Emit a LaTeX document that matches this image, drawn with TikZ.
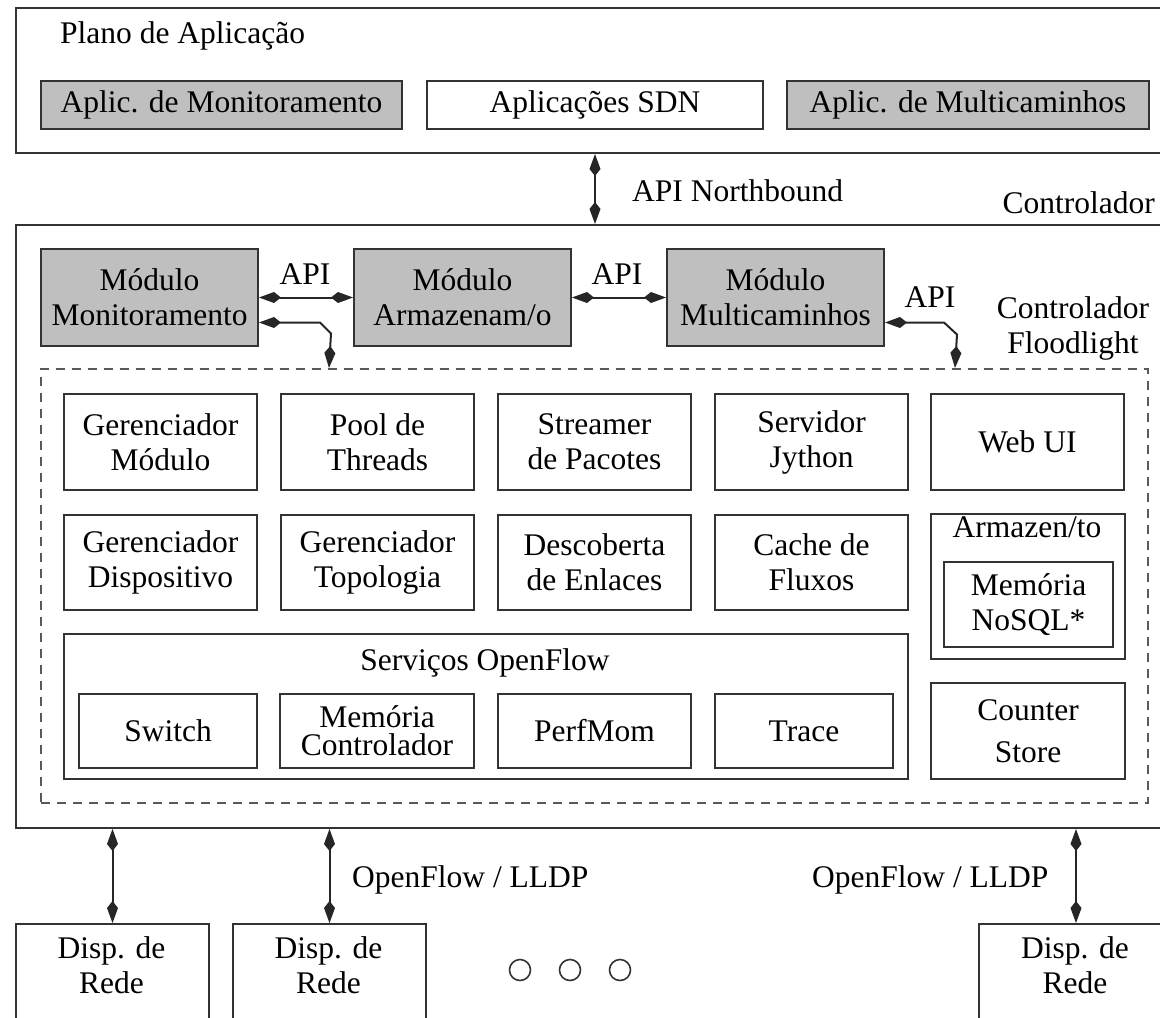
\documentclass[tikz,border=0pt]{standalone}
\usepackage{fontspec}
\setmainfont{Liberation Serif}
\usetikzlibrary{arrows.meta}
\begin{document}
\begin{tikzpicture}[x=1pt,y=-1pt,
  every node/.style={font=\fontsize{31.5}{35}\selectfont},
  frame/.style={draw=black!80, line width=2pt, inner sep=0pt, anchor=north west},
  box/.style={frame, align=center},
  graybox/.style={box, fill=black!25},
  lbl/.style={inner sep=0pt},
  dot/.style={circle, draw=black!80, line width=1.6pt, minimum size=21pt, inner sep=0pt},
  biarrow/.style={draw=black!85, line width=2pt,
    {Kite[length=22pt,width=11pt,inset=7pt]}-{Kite[length=22pt,width=11pt,inset=7pt]}},
]
\path[use as bounding box, clip] (0,0) rectangle (1160,1018);

% application plane
\node[frame, minimum width=1160pt, minimum height=145pt] (plano) at (15,7) {};
\node[lbl, anchor=base west] (tplano) at (60,43) {Plano de Aplicação};
\node[graybox, minimum width=361pt, minimum height=48pt] (amon) at (40,80) {Aplic. de Monitoramento};
\node[box, minimum width=336pt, minimum height=48pt] (sdn) at (426,80) {Aplicações SDN};
\node[graybox, minimum width=362pt, minimum height=48pt] (amul) at (786,80) {Aplic. de Multicaminhos};

% controller
\node[frame, minimum width=1160pt, minimum height=603pt] (ctl) at (15,224) {};
\node[lbl, anchor=base east] (tctl) at (1155,213) {Controlador};
\node[lbl, align=center] (tfl) at (1073,328) {Controlador\\Floodlight};
\node[lbl, anchor=base west] (tnb) at (632,201) {API Northbound};

\node[graybox, minimum width=217pt, minimum height=97pt] (mon) at (40,248) {Módulo\\Monitoramento};
\node[graybox, minimum width=217pt, minimum height=97pt] (arm) at (353,248) {Módulo\\Armazenam/o};
\node[graybox, minimum width=217pt, minimum height=97pt] (mul) at (666,248) {Módulo\\Multicaminhos};
\node[lbl, anchor=base] (api1) at (305,284) {API};
\node[lbl, anchor=base] (api2) at (617,284) {API};
\node[lbl, anchor=base] (api3) at (930,307) {API};

% Floodlight core
\node[frame, draw=black!65, line width=1.8pt, dash pattern=on 9pt off 7pt,
  minimum width=1107pt, minimum height=434pt] (fl) at (40,368) {};

\node[box, minimum width=193pt, minimum height=96pt] (gm) at (63,393) {Gerenciador\\Módulo};
\node[box, minimum width=193pt, minimum height=96pt] (pool) at (280,393) {Pool de\\Threads};
\node[box, minimum width=193pt, minimum height=96pt] (sp) at (497,393) {Streamer\\de Pacotes};
\node[box, minimum width=193pt, minimum height=96pt] (sj) at (714,393) {Servidor\\Jython};
\node[box, minimum width=193pt, minimum height=96pt] (web) at (930,393) {Web UI};

\node[box, minimum width=193pt, minimum height=95pt] (gd) at (63,514) {Gerenciador\\Dispositivo};
\node[box, minimum width=193pt, minimum height=95pt] (gt) at (280,514) {Gerenciador\\Topologia};
\node[box, minimum width=193pt, minimum height=95pt] (de) at (497,514) {Descoberta\\de Enlaces};
\node[box, minimum width=193pt, minimum height=95pt] (cf) at (714,514) {Cache de\\Fluxos};

\node[box, minimum width=194pt, minimum height=145pt] (arz) at (930,513) {};
\node[lbl, anchor=base] (tarz) at (1027,537) {Armazen/to};
\node[box, minimum width=169pt, minimum height=85pt] (nosql) at (943,561) {Memória\\NoSQL*};
\node[box, minimum width=194pt, minimum height=96pt, font=\fontsize{31.5}{42}\selectfont] (cs) at (930,682) {Counter\\Store};

\node[box, minimum width=844pt, minimum height=145pt] (sof) at (63,633) {};
\node[lbl, anchor=base] (tsof) at (485,670) {Serviços OpenFlow};
\node[box, minimum width=178pt, minimum height=74pt] (sw) at (78,693) {Switch};
\node[box, minimum width=194pt, minimum height=74pt, font=\fontsize{31.5}{28}\selectfont] (mc) at (279,693) {Memória\\Controlador};
\node[box, minimum width=193pt, minimum height=74pt] (pm) at (497,693) {PerfMom};
\node[box, minimum width=178pt, minimum height=74pt] (tr) at (714,693) {Trace};

% network devices
\node[frame, minimum width=193pt, minimum height=120pt] (disp1) at (15,923) {};
\node[frame, minimum width=193pt, minimum height=120pt] (disp2) at (232,923) {};
\node[frame, minimum width=194pt, minimum height=120pt] (disp3) at (978,923) {};
\node[lbl, align=center] (tdisp1) at (111.5,965) {Disp. de\\Rede};
\node[lbl, align=center] (tdisp2) at (328.5,965) {Disp. de\\Rede};
\node[lbl, align=center] (tdisp3) at (1075,965) {Disp. de\\Rede};
\node[dot] (c1) at (520,970) {};
\node[dot] (c2) at (570,970) {};
\node[dot] (c3) at (620,970) {};
\node[lbl, anchor=base west] (of1) at (352,887) {OpenFlow / LLDP};
\node[lbl, anchor=base west] (of2) at (812,887) {OpenFlow / LLDP};

% connectors
\coordinate (d1) at (329,368);
\coordinate (d2) at (955,368);
\draw[biarrow] (plano.south -| sdn.south) -- (ctl.north -| sdn.south);
\draw[biarrow] (mon) -- (arm);
\draw[biarrow] (arm) -- (mul);
\draw[biarrow] ([yshift=-25pt]mon.east) -- ++(61,0) -- ++(11,11) -- (d1);
\draw[biarrow] ([yshift=-25pt]mul.east) -- ++(59,0) -- ++(13,12) -- (d2);
\draw[biarrow] (ctl.south -| disp1.north) -- (disp1.north);
\draw[biarrow] (ctl.south -| disp2.north) -- (disp2.north);
\draw[biarrow] (ctl.south -| disp3.north) -- (disp3.north);
\end{tikzpicture}
\end{document}
